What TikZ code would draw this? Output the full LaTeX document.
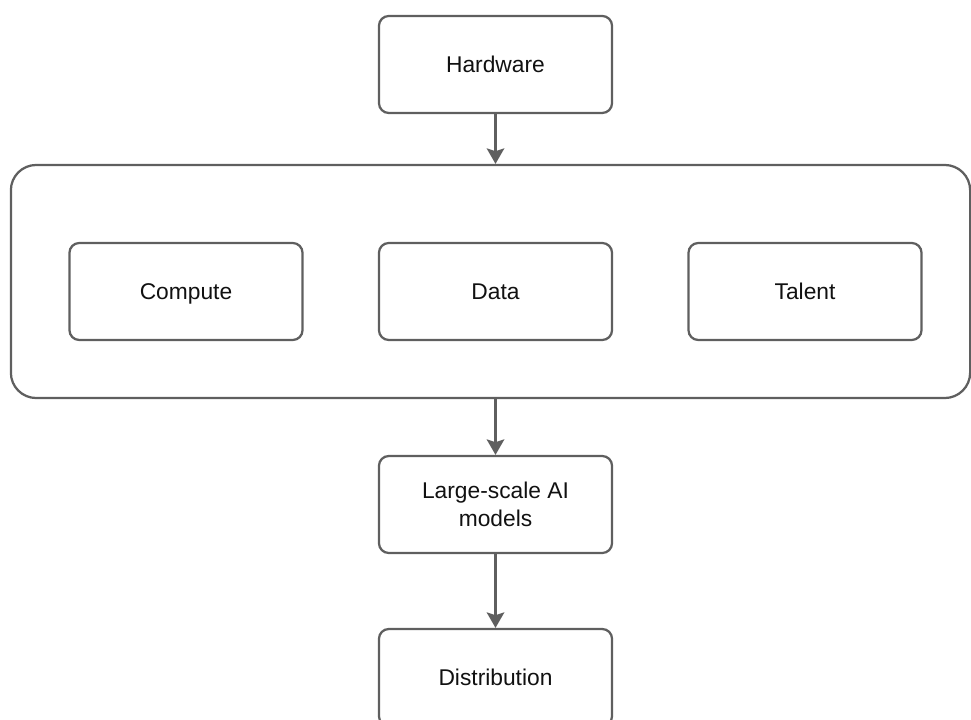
\documentclass[tikz,border=0pt]{standalone}
\usepackage{fontspec}
\setmainfont{Liberation Sans}
\usetikzlibrary{arrows.meta}
\definecolor{linegray}{HTML}{5F5F5F}
\definecolor{textgray}{HTML}{111111}
\begin{document}
\begin{tikzpicture}[x=0.025cm, y=-0.025cm, line width=1.6pt, >={Stealth[length=11pt,width=12.5pt,inset=2pt]},
main node/.style={rectangle,rounded corners=7pt,draw=linegray,text=textgray,minimum width=5.825cm,minimum height=2.425cm,inner sep=2pt,align=center,text height=11.6pt,text depth=0pt,font=\fontsize{16.2}{19.5}\selectfont},
group node/.style={rectangle,rounded corners=18pt,draw=linegray,minimum width=23.975cm,minimum height=5.825cm}]
\useasboundingbox (0,0) rectangle (971,720);
\node [group node](grp) at (490.5,281.5) {};
\node [main node](hw) at (495.5,64.5) {Hardware};
\node [main node](comp) at (186,291.5) {Compute};
\node [main node](data) at (495.5,291.5) {Data};
\node [main node](tal) at (805,291.5) {Talent};
\node [main node, text height={}, text depth={}](lsai) at (495.5,504.5) {Large-scale AI\\models};
\node [main node](dist) at (495.5,677.5) {Distribution};
\draw [->, linegray] (hw) -- (hw.south |- grp.north);
\draw [->, linegray] (grp.south -| lsai) -- (lsai);
\draw [->, linegray] (lsai) -- (dist);
\end{tikzpicture}
\end{document}
